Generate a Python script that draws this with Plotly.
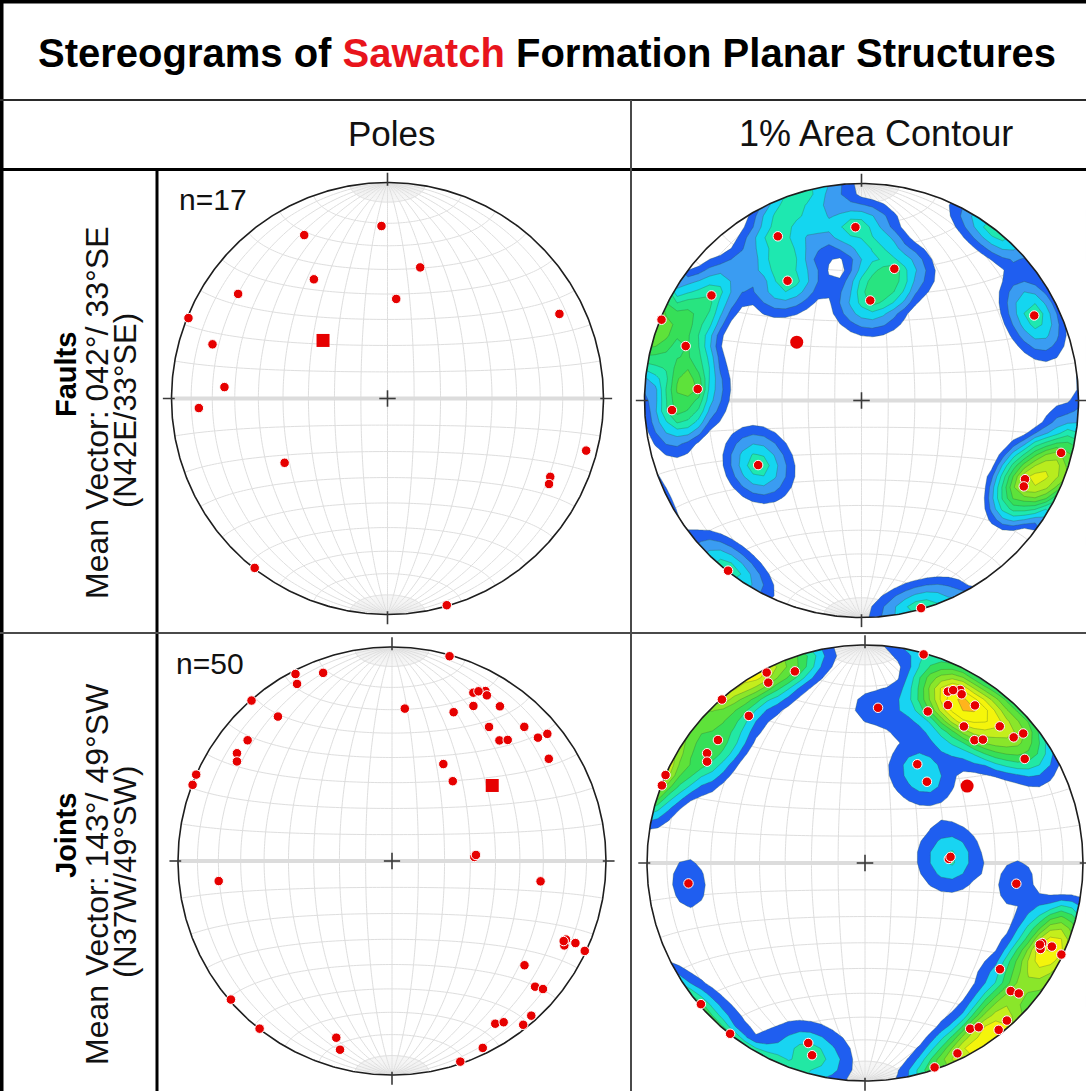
import numpy as np
import plotly.graph_objects as go

# ---------------- data (poles to planes: trend / plunge, degrees) ----------------
fault_trend = [358.0, 333.0, 14.0, 328.3, 305.0, 5.0, 292.0, 63.8, 287.2, 274.0, 267.1, 238.0,
               104.7, 115.7, 117.9, 218.1, 164.0]
fault_plunge = [21.2, 16.2, 37.5, 35.4, 16.7, 51.8, 0.7, 12.3, 16.3, 25.3, 13.6, 43.2,
                5.5, 17.5, 16.5, 0.4, 0.5]
fault_mean_strike, fault_mean_dip = 42, 33      # 042° / 33°SE

joint_trend = [15.7, 332.7, 339.9, 331.8, 318.8, 321.7, 4.8, 25.8, 28.8, 29.8, 22.5, 27.7, 34.9,
               35.9, 44.6, 41.7, 43.7, 49.8, 50.7, 56.9, 309.9, 304.8, 302.7, 293.8, 290.9, 27.9,
               37.3, 87.2, 85.9, 263.4, 97.8, 114.3, 116.1, 114.1, 115.0, 128.2, 131.3, 130.3,
               138.0, 141.3, 147.6, 145.3, 154.1, 161.2, 229.3, 218.3, 197.5, 195.4, 27.0, 115.0]
joint_plunge = [0.7, 1.9, 7.1, 6.8, 0.4, 15.1, 29.3, 13.7, 10.3, 11.8, 25.7, 19.3, 12.9,
                23.7, 13.0, 25.5, 22.8, 11.7, 6.9, 13.6, 13.1, 12.8, 15.0, 0.0, 0.3, 47.5,
                51.3, 58.4, 57.7, 19.6, 30.6, 11.8, 11.3, 6.8, 0.7, 22.3, 12.0, 8.3,
                3.1, 2.2, 10.9, 9.2, 3.3, 1.1, 0.8, 0.2, 14.5, 9.4, 12.0, 12.5]
joint_mean_strike, joint_mean_dip = 143, 49     # 143° / 49°SW

title_parts = ["Stereograms of ", "Sawatch", " Formation Planar Structures"]
col_headers = ["Poles", "1% Area Contour"]
row_names = ["Faults", "Joints"]
row_mean_text = ["Mean Vector: 042°/ 33°SE", "Mean Vector: 143°/ 49°SW"]
row_quad_text = ["(N42E/33°SE)", "(N37W/49°SW)"]

# ---------------- geometry ----------------
W, H = 1086, 1091
FONT = "Liberation Sans, Arial, Helvetica, sans-serif"
RED = "#e8141c"
panels = [  # (cx, cy, R) in pixels
    (387.5, 398.5, 216.0),   # faults poles
    (861.5, 400.5, 217.0),   # faults contour
    (392.0, 861.0, 214.0),   # joints poles
    (865.0, 863.0, 218.0),   # joints contour
]
PAD = 1.08


def to_xyz(trend, plunge):
    t = np.radians(np.asarray(trend, float))
    p = np.radians(np.asarray(plunge, float))
    return np.cos(p) * np.sin(t), np.cos(p) * np.cos(t), np.sin(p)


def project(x, y, z):
    k = 1.0 / np.sqrt(1.0 + z)
    return x * k, y * k


def proj_tp(trend, plunge):
    return project(*to_xyz(trend, plunge))


def pole_of(strike, dip):
    return (strike - 90) % 360, 90 - dip


def path_of(curves):
    parts = []
    for xs, ys in curves:
        pts = ["{:.4f},{:.4f}".format(a, b) for a, b in zip(xs, ys)]
        parts.append("M" + "L".join(pts))
    return " ".join(parts)


def net_curves():
    curves = []
    t = np.linspace(0, np.pi, 181)
    for d in range(10, 91, 10):
        dr = np.radians(d)
        for s in ((1, -1) if d < 90 else (1,)):
            curves.append(project(s * np.sin(t) * np.cos(dr), np.cos(t), np.sin(t) * np.sin(dr)))
    ph = np.linspace(0, np.pi, 121)
    for a in range(10, 180, 10):
        if a == 90:
            continue
        ar = np.radians(a)
        curves.append(project(np.sin(ar) * np.cos(ph), np.full_like(ph, np.cos(ar)),
                              np.sin(ar) * np.sin(ph)))
    return curves


def fan_curves():
    curves = []
    tn = np.linspace(np.radians(1.5), np.radians(10), 8)
    for d in range(2, 90, 2):
        if d % 10 == 0:
            continue
        dr = np.radians(d)
        for s in (1, -1):
            for tt in (tn, np.pi - tn):
                curves.append(project(s * np.sin(tt) * np.cos(dr), np.cos(tt), np.sin(tt) * np.sin(dr)))
    return curves


NET = path_of(net_curves())
FAN = path_of(fan_curves())
EW = "M-1,0L1,0"

fig = go.Figure()
shapes = []
layout_axes = {}

for i, (cx, cy, R) in enumerate(panels):
    k = "" if i == 0 else str(i + 1)
    xl, xr = -PAD, min(PAD, (W - cx) / R - 1e-6)
    yb, yt = -min(PAD, (H - cy) / R - 1e-6), PAD
    xdom = [max(0, (cx + xl * R) / W), min(1, (cx + xr * R) / W)]
    ydom = [max(0, 1 - (cy - yb * R) / H), min(1, 1 - (cy - yt * R) / H)]
    layout_axes["xaxis" + k] = dict(domain=xdom, range=[xl, xr], visible=False, fixedrange=True)
    layout_axes["yaxis" + k] = dict(domain=ydom, range=[yb, yt], visible=False, fixedrange=True)
    xa, ya = "x" + k, "y" + k
    shapes.append(dict(type="path", path=FAN, xref=xa, yref=ya, layer="below",
                       line=dict(color="#ececec", width=0.6)))
    shapes.append(dict(type="path", path=NET, xref=xa, yref=ya, layer="below",
                       line=dict(color="#dedede", width=1)))
    shapes.append(dict(type="path", path=EW, xref=xa, yref=ya, layer="below",
                       line=dict(color="#dcdcdc", width=4)))


def add_density(trend, plunge, axis_k, start, size, colors):
    px, py, pz = to_xyz(trend, plunge)
    g = np.linspace(-1.05, 1.05, 43)
    X, Y = np.meshgrid(g, g)
    r = np.sqrt(X ** 2 + Y ** 2)
    sc = np.where(r > np.sqrt(2), np.sqrt(2) / np.maximum(r, 1e-9), 1.0)
    Xc, Yc = X * sc, Y * sc
    zc = 1 - (Xc ** 2 + Yc ** 2)
    f = np.sqrt(np.clip(1 + zc, 0, None))
    ux, uy, uz = Xc * f, Yc * f, zc
    n = len(trend)
    D = np.zeros_like(X)
    psb = np.radians(17.5)
    for a, b, c in zip(px, py, pz):
        cs = np.clip(np.abs(ux * a + uy * b + uz * c), -1, 1)
        psi = np.arccos(cs)
        D += np.clip(1 - psi / psb, 0, 1)
    D *= 100.0 / n
    nc = len(colors) - 1
    nb = nc + 1
    cscale = []
    for j, col in enumerate(colors):
        cscale.append([j / nb, col])
        cscale.append([(j + 1) / nb, col])
    cscale.append([1.0, colors[-1]])
    fig.add_trace(go.Contour(
        x=g, y=g, z=D, xaxis="x" + axis_k, yaxis="y" + axis_k,
        contours=dict(start=start, end=start + (nc - 1) * size, size=size, coloring="fill",
                      showlines=True),
        line=dict(width=0.6, color="rgba(50,90,50,0.5)", smoothing=0),
        colorscale=cscale, showscale=False, hoverinfo="skip"))
    # white mask outside the primitive
    B = 1.3
    th = np.linspace(0, -2 * np.pi, 361)
    mx = [B, B, -B, -B, B, B, 1] + list(np.cos(th)) + [B]
    my = [0, B, B, -B, -B, 0, 0] + list(np.sin(th)) + [0]
    fig.add_trace(go.Scatter(x=mx, y=my, xaxis="x" + axis_k, yaxis="y" + axis_k, mode="lines",
                             fill="toself", fillcolor="white", line=dict(width=0),
                             hoverinfo="skip", showlegend=False))


FAULT_COLORS = ["rgba(255,255,255,0)", "#1f5ef0", "#3a9cf2", "#14d6f0", "#1ee8b0", "#28e480",
                "#36df58", "#5ee23a", "#8ae62a", "#b8ec1e", "#e4f212", "#f6f60a", "#f6f60a",
                "#f6f60a", "#f6f60a", "#f6f60a"]
JOINT_COLORS = ["rgba(255,255,255,0)", "#1f5ef0", "#18d4f2", "#22e8a4", "#36df58", "#5ee23a",
                "#8ae62a", "#c4ee1c", "#f4f40c", "#f6f60a", "#ffb41c", "#ff8a18", "#ff5a14",
                "#ff2a10", "#ff2010", "#ff2010"]

add_density(fault_trend, fault_plunge, "2", 1.15, 1.1, FAULT_COLORS)
add_density(joint_trend, joint_plunge, "4", 1.15, 1.1, JOINT_COLORS)


def add_frame(axis_k):
    th = np.linspace(0, 2 * np.pi, 721)
    fig.add_trace(go.Scatter(x=np.cos(th), y=np.sin(th), xaxis="x" + axis_k, yaxis="y" + axis_k,
                             mode="lines", line=dict(color="#1e1e1e", width=1.6),
                             hoverinfo="skip", showlegend=False))
    tx = [0, 0, None, 0, 0, None, 0.985, 1.04, None, -0.985, -1.04, None,
          -0.038, 0.038, None, 0, 0]
    ty = [0.985, 1.045, None, -0.985, -1.045, None, 0, 0, None, 0, 0, None,
          0, 0, None, -0.038, 0.038]
    fig.add_trace(go.Scatter(x=tx, y=ty, xaxis="x" + axis_k, yaxis="y" + axis_k, mode="lines",
                             line=dict(color="#3a3a3a", width=1.6), hoverinfo="skip",
                             showlegend=False))


for k in ["", "2", "3", "4"]:
    add_frame(k)


def add_points(trend, plunge, mean, axis_k, mean_symbol):
    x, y = proj_tp(trend, plunge)
    fig.add_trace(go.Scatter(x=x, y=y, xaxis="x" + axis_k, yaxis="y" + axis_k, mode="markers",
                             marker=dict(color="#e60000", size=9.5,
                                         line=dict(color="white", width=1)),
                             hoverinfo="skip", showlegend=False))
    mt, mp = pole_of(*mean)
    mx, my = proj_tp([mt], [mp])
    fig.add_trace(go.Scatter(x=mx, y=my, xaxis="x" + axis_k, yaxis="y" + axis_k, mode="markers",
                             marker=dict(color="#e60000", size=13, symbol=mean_symbol,
                                         line=dict(width=0)),
                             hoverinfo="skip", showlegend=False))


add_points(fault_trend, fault_plunge, (fault_mean_strike, fault_mean_dip), "", "square")
add_points(fault_trend, fault_plunge, (fault_mean_strike, fault_mean_dip), "2", "circle")
add_points(joint_trend, joint_plunge, (joint_mean_strike, joint_mean_dip), "3", "square")
add_points(joint_trend, joint_plunge, (joint_mean_strike, joint_mean_dip), "4", "circle")


# ---------------- table frame ----------------
def hline(y, x0, x1, w, c):
    shapes.append(dict(type="line", xref="paper", yref="paper", x0=x0 / W, x1=x1 / W,
                       y0=1 - y / H, y1=1 - y / H, line=dict(color=c, width=w), layer="above"))


def vline(x, y0, y1, w, c):
    shapes.append(dict(type="line", xref="paper", yref="paper", x0=x / W, x1=x / W,
                       y0=1 - y0 / H, y1=1 - y1 / H, line=dict(color=c, width=w), layer="above"))


hline(1.5, 0, W, 4, "#000")
vline(1.5, 0, H, 4, "#000")
hline(100, 0, W, 2, "#2a2a2a")
hline(169.5, 0, W, 3, "#000")
vline(631, 100, H, 2, "#4a4a4a")
vline(157, 169, H, 3, "#000")
hline(633, 0, W, 2, "#4a4a4a")

ann = []


def text(x, y, s, size, bold=False, angle=0, xanchor="center", color="#111", family=FONT):
    if bold:
        s = "<b>" + s + "</b>"
    ann.append(dict(x=x / W, y=1 - y / H, xref="paper", yref="paper", text=s, showarrow=False,
                    xanchor=xanchor, yanchor="middle", textangle=angle,
                    font=dict(family=family, size=size, color=color)))


text(547, 53, title_parts[0] + "<span style='color:%s'>%s</span>" % (RED, title_parts[1])
     + title_parts[2], 40, bold=True, color="#000")
text(392, 133, col_headers[0], 35)
text(876, 133, col_headers[1], 36)
text(177, 199, "n=%d" % len(fault_trend), 30, xanchor="left")
text(174, 663, "n=%d" % len(joint_trend), 30, xanchor="left")
for r, yc in enumerate([405, 866]):
    text(66, yc - 30, row_names[r], 29, bold=True, angle=-90, color="#000")
    text(97, yc + 8, row_mean_text[r], 32, angle=-90)
    text(125, yc + 6, row_quad_text[r], 31, angle=-90)

fig.update_layout(width=W, height=H, margin=dict(l=0, r=0, t=0, b=0), autosize=False,
                  paper_bgcolor="white", plot_bgcolor="rgba(0,0,0,0)", showlegend=False,
                  shapes=shapes, annotations=ann, **layout_axes)

fig.write_html("out.html", config={"displayModeBar": False},
               post_script="document.body.style.margin='0';")
